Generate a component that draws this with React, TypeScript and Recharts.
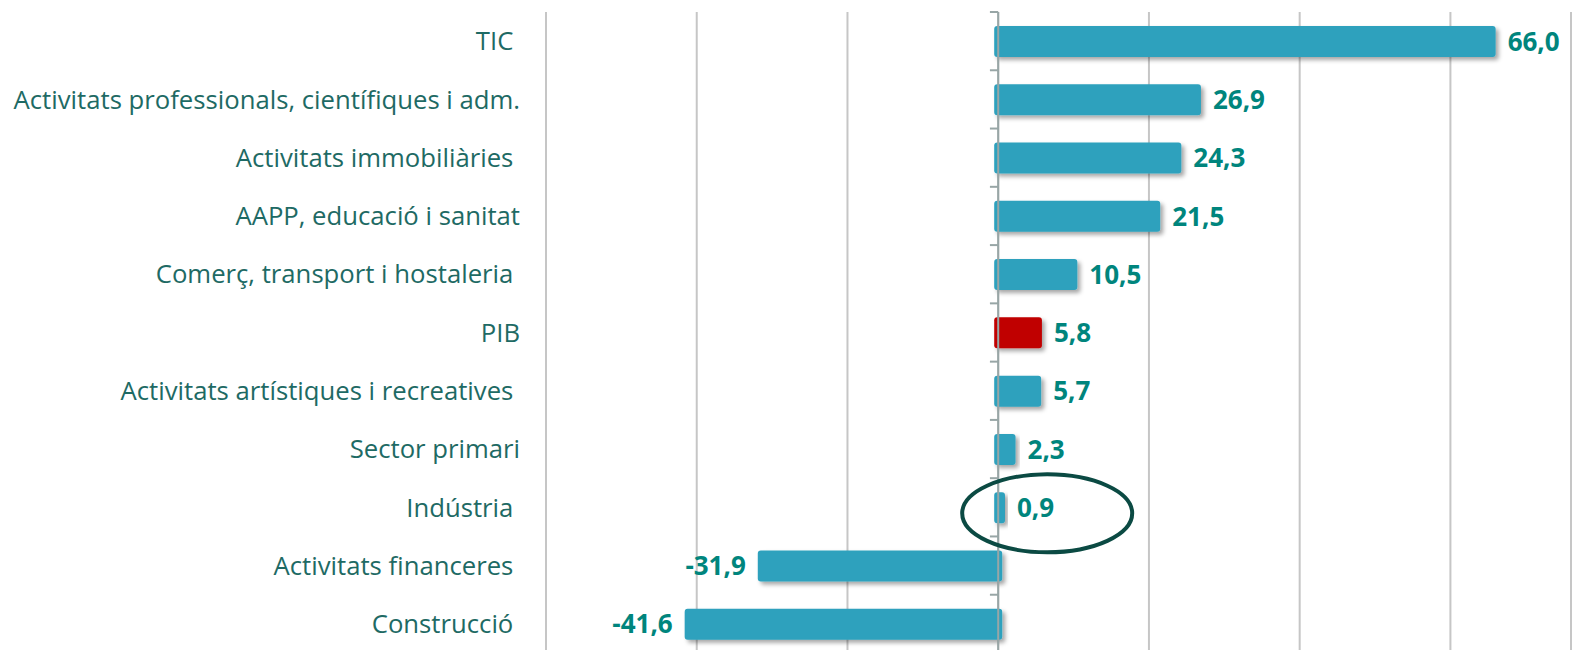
import React from 'react';
import {
  BarChart,
  Bar,
  XAxis,
  YAxis,
  CartesianGrid,
  Cell,
  LabelList,
  ReferenceLine,
  ReferenceDot,
  Rectangle,
} from 'recharts';

const categories = [
  'TIC ',
  'Activitats professionals, científiques i adm.',
  'Activitats immobiliàries ',
  'AAPP, educació i sanitat',
  'Comerç, transport i hostaleria ',
  'PIB',
  'Activitats artístiques i recreatives ',
  'Sector primari',
  'Indústria ',
  'Activitats financeres ',
  'Construcció ',
];
const values = [66.0, 26.9, 24.3, 21.5, 10.5, 5.8, 5.7, 2.3, 0.9, -31.9, -41.6];
const xTicks = [-60, -40, -20, 0, 20, 40, 60];
const highlighted = 'PIB';
const circled = 'Indústria ';
const circleValue = 6.5;

const data = categories.map((name, i) => ({ name, value: values[i] }));

const FONT = '"Open Sans", sans-serif';
const BAR = '#2EA1BD';
const RED = '#C00000';
const LABEL = '#00857D';
const CAT = '#1E6A64';
const AXIS = '#98A6A6';

const CatTick = (props: any) => {
  const { x, y, payload } = props;
  return (
    <text
      x={x}
      y={y}
      dy="0.36em"
      textAnchor="end"
      fill={CAT}
      fontSize={25.7}
      fontFamily={FONT}
      style={{ whiteSpace: 'pre' }}
    >
      {payload.value}
    </text>
  );
};

const EmptyTick = () => <g />;

const BarShape = (props: any) => {
  const { x, width } = props;
  const ext = 4;
  const nx = width >= 0 ? x - ext : x + ext;
  const nw = width >= 0 ? width + ext : width - ext;
  return <Rectangle {...props} x={nx} width={nw} radius={3} filter="url(#barShadow)" />;
};

const EllipseShape = (props: any) => (
  <ellipse
    cx={props.cx}
    cy={props.cy + 6}
    rx={85}
    ry={39}
    fill="none"
    stroke="#0B4A43"
    strokeWidth={4}
  />
);

const fmt = (v: any) => Number(v).toFixed(1).replace('.', ',');

export default function App() {
  return (
    <div style={{ position: 'absolute', left: 0, top: 0, width: 1583, height: 650, overflow: 'hidden', background: '#fff' }}>
      <svg width={0} height={0} style={{ position: 'absolute' }}>
        <defs>
          <filter id="barShadow" x="-20%" y="-40%" width="140%" height="200%">
            <feDropShadow dx="3" dy="3" stdDeviation="2" floodColor="#000" floodOpacity="0.35" />
          </filter>
        </defs>
      </svg>
      <BarChart
        width={1583}
        height={653}
        data={data}
        layout="vertical"
        margin={{ top: 12, right: 12, bottom: 0, left: 0 }}
        barSize={31}
      >
        <CartesianGrid horizontal={false} stroke="#C6C6C6" strokeWidth={2} />
        <XAxis
          type="number"
          domain={[-60, 76]}
          ticks={xTicks}
          interval={0}
          height={0}
          tick={<EmptyTick />}
          axisLine={false}
          tickLine={false}
        />
        <YAxis
          type="category"
          dataKey="name"
          width={546}
          interval={0}
          tickSize={0}
          tickMargin={26}
          axisLine={false}
          tickLine={false}
          tick={<CatTick />}
        />
        <Bar dataKey="value" isAnimationActive={false} shape={<BarShape />}>
          {data.map((d) => (
            <Cell key={d.name} fill={d.name === highlighted ? RED : BAR} />
          ))}
          <LabelList
            dataKey="value"
            position="right"
            offset={12}
            formatter={fmt}
            fill={LABEL}
            fontSize={26}
            fontWeight={700}
            fontFamily={FONT}
          />
        </Bar>
        <ReferenceLine x={0} stroke={AXIS} strokeWidth={2} isFront />
        {categories.map((c) => (
          <ReferenceLine
            key={'t' + c}
            segment={[{ x: -1.1, y: c }, { x: 0, y: c }]}
            position="start"
            stroke={AXIS}
            strokeWidth={2}
            isFront
          />
        ))}
        <ReferenceDot x={circleValue} y={circled} r={40} shape={<EllipseShape />} isFront />
      </BarChart>
    </div>
  );
}
